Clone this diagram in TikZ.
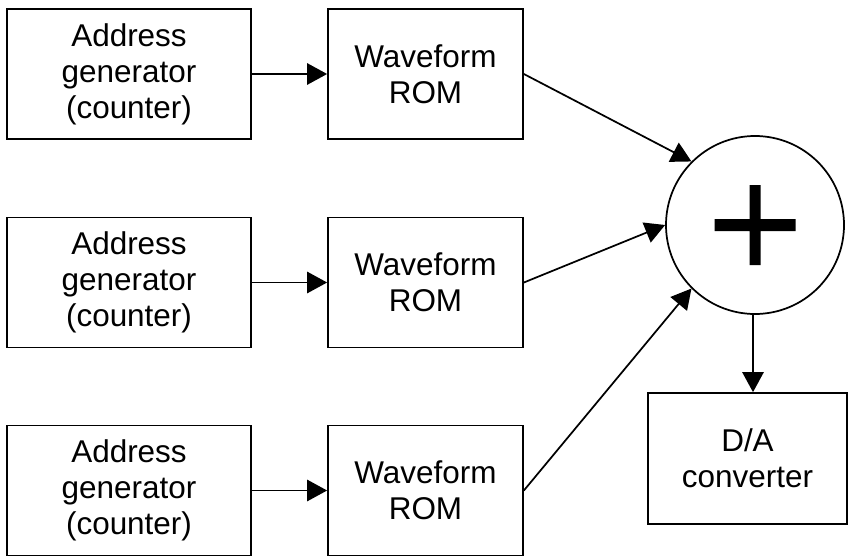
\documentclass[tikz,border=0pt]{standalone}
\usepackage{fontspec}
\setmainfont{Liberation Sans}
\usetikzlibrary{arrows.meta}
\begin{document}
\begin{tikzpicture}[
  x=0.75pt, y=-0.75pt,
  line width=1.3pt,
  every node/.style={font=\fontsize{23.6pt}{27pt}\selectfont, align=center, inner sep=0pt},
  addrbox/.style={draw, rectangle, minimum width=244*0.75pt, minimum height=130*0.75pt},
  rombox/.style={draw, rectangle, minimum width=195*0.75pt, minimum height=130*0.75pt},
  dabox/.style={draw, rectangle, minimum width=199*0.75pt, minimum height=131*0.75pt},
  sumnode/.style={draw, circle, minimum size=178*0.75pt,
    path picture={\fill[shift={(path picture bounding box.center)}, shift={(-2.5,12)}]
      (-40.5,-6) rectangle (40.5,6) (-5.5,-40) rectangle (5.5,40);}},
  flow/.style={-{Triangle[length=15pt, width=16pt]}}
]
\useasboundingbox (0,0) rectangle (849,557);

% address generators
\node[addrbox] (a1) at (129, 74)    {Address\\generator\\(counter)};
\node[addrbox] (a2) at (129, 282.5) {Address\\generator\\(counter)};
\node[addrbox] (a3) at (129, 490.5) {Address\\generator\\(counter)};

% waveform memories
\node[rombox] (r1) at (425.5, 74)    {Waveform\\ROM};
\node[rombox] (r2) at (425.5, 282.5) {Waveform\\ROM};
\node[rombox] (r3) at (425.5, 490.5) {Waveform\\ROM};

% summing junction and converter
\node[sumnode] (sum) at (755, 225) {};
\node[dabox] (da) at (747.5, 458.5) {D/A\\converter};

% connections
\draw[flow] (a1.east) -- (r1.west);
\draw[flow] (a2.east) -- (r2.west);
\draw[flow] (a3.east) -- (r3.west);
\draw[flow] (r1.east) -- (sum.135);
\draw[flow] (r2.east) -- (sum.180);
\draw[flow] (r3.east) -- (sum.225);
\draw[flow] ([xshift=-1.5pt]sum.south) -- ([xshift=-1.5pt]sum.south |- da.north);
\end{tikzpicture}
\end{document}
